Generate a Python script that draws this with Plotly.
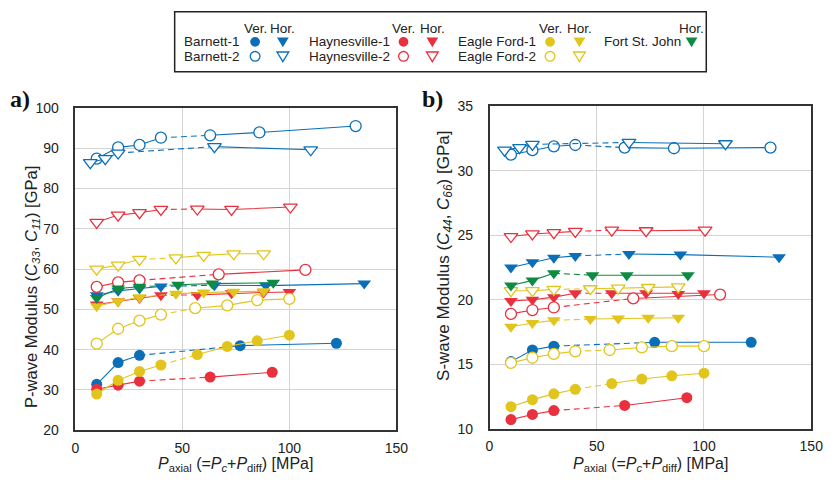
import plotly.graph_objects as go

# ---------------- data ----------------
# x: axial pressure (MPa); *_P: P-wave modulus (GPa); *_S: S-wave modulus (GPa)
B1_ver_x = [10, 20, 30, 77, 122]
B1_ver_P = [31.4, 36.8, 38.6, 41.0, 41.6]
B1_ver_S = [15.2, 16.1, 16.4, 16.7, 16.7]

B1_hor_x = [10, 20, 30, 40, 65, 89, 135]
B1_hor_P = [53.5, 54.6, 55.2, 55.7, 56.0, 55.9, 56.4]
B1_hor_S = [22.5, 22.9, 23.25, 23.4, 23.55, 23.5, 23.3]

B2_ver_x = [10, 20, 30, 40, 63, 86, 131]
B2_ver_P = [87.4, 90.2, 90.8, 92.6, 93.2, 93.9, 95.5]
B2_ver_S = [31.25, 31.6, 31.9, 32.0, 31.8, 31.75, 31.8]

B2_hor_x = [7, 14, 20, 65, 110]
B2_hor_P = [86.4, 87.4, 88.8, 90.4, 89.6]
B2_hor_S = [31.6, 31.8, 32.05, 32.2, 32.1]

H1_ver_x = [10, 20, 30, 63, 92]
H1_ver_P = [30.2, 31.2, 32.2, 33.2, 34.4]
H1_ver_S = [10.7, 11.1, 11.4, 11.8, 12.4]

H1_hor_x = [10, 20, 30, 40, 57, 73, 88, 100]
H1_hor_P = [51.2, 52.0, 52.8, 53.5, 53.6, 54.0, 54.2, 54.3]
H1_hor_S = [19.9, 20.0, 20.2, 20.5, 20.5, 20.5, 20.45, 20.5]

H2_ver_x = [10, 20, 30, 67, 107.5]
H2_ver_P = [55.6, 56.7, 57.2, 58.7, 59.8]
H2_ver_S = [18.9, 19.2, 19.4, 20.1, 20.4]

H2_hor_x = [10, 20, 30, 40, 57, 73, 100.5]
H2_hor_P = [71.6, 73.4, 74.0, 74.8, 74.9, 74.8, 75.4]
H2_hor_S = [24.9, 25.1, 25.2, 25.3, 25.4, 25.35, 25.4]

EF1_ver_x = [10, 20, 30, 40, 57, 71, 85, 100]
EF1_ver_P = [29.0, 32.4, 34.6, 36.2, 38.8, 40.8, 42.2, 43.6]
EF1_ver_S = [11.7, 12.25, 12.7, 13.05, 13.5, 13.85, 14.1, 14.3]

EF1_hor_x = [10, 20, 30, 47, 60, 74, 88]
EF1_hor_P = [50.8, 52.0, 53.0, 53.9, 54.2, 54.4, 54.5]
EF1_hor_S = [17.9, 18.2, 18.4, 18.5, 18.55, 18.6, 18.6]

EF2_ver_x = [10, 20, 30, 40, 56, 71, 85, 100]
EF2_ver_P = [41.5, 45.2, 47.2, 48.7, 50.3, 51.0, 52.3, 52.6]
EF2_ver_S = [15.1, 15.5, 15.8, 16.0, 16.1, 16.3, 16.4, 16.4]

EF2_hor_x = [10, 20, 30, 47, 60, 74, 88]
EF2_hor_P = [60.0, 61.0, 62.4, 62.8, 63.4, 63.8, 63.8]
EF2_hor_S = [20.7, 20.7, 20.8, 20.85, 20.9, 20.95, 21.0]

FSJ_hor_x = [10, 20, 30, 48, 64, 92.5]
FSJ_hor_P = [52.8, 55.2, 55.6, 56.1, 56.4, 56.6]
FSJ_hor_S = [21.1, 21.5, 22.05, 21.9, 21.9, 21.9]

BLUE = "#0B6FB8"
RED = "#E8303F"
YEL = "#E2C51C"
GRN = "#0E8A43"

series = [
    # name, x, P, S, index of first point after dashed link, color, filled, symbol
    ("Barnett-1 Ver", B1_ver_x, B1_ver_P, B1_ver_S, 3, BLUE, True, "circle"),
    ("Barnett-1 Hor", B1_hor_x, B1_hor_P, B1_hor_S, 4, BLUE, True, "triangle-down"),
    ("Barnett-2 Ver", B2_ver_x, B2_ver_P, B2_ver_S, 4, BLUE, False, "circle"),
    ("Barnett-2 Hor", B2_hor_x, B2_hor_P, B2_hor_S, 3, BLUE, False, "triangle-down"),
    ("Haynesville-1 Ver", H1_ver_x, H1_ver_P, H1_ver_S, 3, RED, True, "circle"),
    ("Haynesville-1 Hor", H1_hor_x, H1_hor_P, H1_hor_S, 4, RED, True, "triangle-down"),
    ("Haynesville-2 Ver", H2_ver_x, H2_ver_P, H2_ver_S, 3, RED, False, "circle"),
    ("Haynesville-2 Hor", H2_hor_x, H2_hor_P, H2_hor_S, 4, RED, False, "triangle-down"),
    ("Eagle Ford-1 Ver", EF1_ver_x, EF1_ver_P, EF1_ver_S, 4, YEL, True, "circle"),
    ("Eagle Ford-1 Hor", EF1_hor_x, EF1_hor_P, EF1_hor_S, 3, YEL, True, "triangle-down"),
    ("Eagle Ford-2 Ver", EF2_ver_x, EF2_ver_P, EF2_ver_S, 4, YEL, False, "circle"),
    ("Eagle Ford-2 Hor", EF2_hor_x, EF2_hor_P, EF2_hor_S, 3, YEL, False, "triangle-down"),
    ("Fort St. John Hor", FSJ_hor_x, FSJ_hor_P, FSJ_hor_S, 3, GRN, True, "triangle-down"),
]

W, H = 835, 485
fig = go.Figure()

def add_series(x, y, brk, color, filled, symbol, xa, ya, name):
    lw = 1.1
    fig.add_trace(go.Scatter(x=x[:brk], y=y[:brk], mode="lines", line=dict(color=color, width=lw),
                             xaxis=xa, yaxis=ya, showlegend=False, hoverinfo="skip"))
    fig.add_trace(go.Scatter(x=x[brk-1:brk+1], y=y[brk-1:brk+1], mode="lines",
                             line=dict(color=color, width=lw, dash="6px,4px"),
                             xaxis=xa, yaxis=ya, showlegend=False, hoverinfo="skip"))
    fig.add_trace(go.Scatter(x=x[brk:], y=y[brk:], mode="lines", line=dict(color=color, width=lw),
                             xaxis=xa, yaxis=ya, showlegend=False, hoverinfo="skip"))
    size = 11 if symbol == "circle" else 12
    if filled:
        mk = dict(symbol=symbol, size=size, color=color, line=dict(width=0))
    else:
        mk = dict(symbol=symbol, size=size, color="white", line=dict(width=1.3, color=color))
    fig.add_trace(go.Scatter(x=x, y=y, mode="markers", marker=mk, name=name,
                             xaxis=xa, yaxis=ya, showlegend=False))

for name, x, P, S, brk, c, f, sym in series:
    add_series(x, P, brk, c, f, sym, "x", "y", name)
for name, x, P, S, brk, c, f, sym in series:
    add_series(x, S, brk, c, f, sym, "x2", "y2", name)

def px(v):
    return v / W

def py(v):
    return 1 - v / H

TICKFONT = dict(family="Liberation Sans, Arial, sans-serif", size=14, color="#222")
ax_common = dict(showline=True, linecolor="#333", linewidth=1.5, mirror=True,
                 showgrid=True, gridcolor="#d4d4d4", gridwidth=1, zeroline=False,
                 ticks="", tickfont=TICKFONT)

fig.update_layout(
    width=W, height=H, margin=dict(l=0, r=0, t=0, b=0),
    paper_bgcolor="white", plot_bgcolor="white", showlegend=False,
    xaxis=dict(domain=[px(72.7), px(400)], range=[0, 150], tickvals=[0, 50, 100, 150],
               anchor="y", ticklabelstandoff=4, **ax_common),
    yaxis=dict(domain=[py(436.7), py(103.3)], range=[20, 100], dtick=10,
               anchor="x", ticklabelstandoff=12, **ax_common),
    xaxis2=dict(domain=[px(495), px(823)], range=[0, 150], tickvals=[0, 50, 100, 150],
                anchor="y2", ticklabelstandoff=4, **ax_common),
    yaxis2=dict(domain=[py(435), py(101.7)], range=[10, 35], dtick=5,
                anchor="x2", ticklabelstandoff=12, **ax_common),
)

ann = []
shapes = []
TF = "Liberation Sans, Arial, sans-serif"
# axis titles
xt = "<i>P</i><sub>axial</sub> (=<i>P</i><sub><i>c</i></sub>+<i>P</i><sub>diff</sub>) [MPa]"
for cx in (236, 659):
    ann.append(dict(text=xt, x=px(cx), y=py(472), xref="paper", yref="paper", showarrow=False,
                    font=dict(family=TF, size=16, color="#222"), xanchor="center", yanchor="middle"))
ann.append(dict(text="P-wave Modulus (<i>C</i><sub><i>33</i></sub>, <i>C</i><sub><i>11</i></sub>) [GPa]",
                x=px(29), y=py(288), xref="paper", yref="paper", showarrow=False, textangle=-90,
                font=dict(family=TF, size=16.5, color="#222"), xanchor="center", yanchor="middle"))
ann.append(dict(text="S-wave Modulus (<i>C</i><sub><i>44</i></sub>, <i>C</i><sub><i>66</i></sub>) [GPa]",
                x=px(449), y=py(256), xref="paper", yref="paper", showarrow=False, textangle=-90,
                font=dict(family=TF, size=17, color="#222"), xanchor="center", yanchor="middle"))
# panel labels
for lab, lx in (("a)", 4), ("b)", 424)):
    ann.append(dict(text="<b>" + lab + "</b>", x=px(lx), y=py(94), xref="paper", yref="paper",
                    showarrow=False,
                    font=dict(family="Liberation Serif, Times New Roman, serif", size=24, color="#111"),
                    xanchor="left", yanchor="middle"))

# legend (text + key glyphs drawn as layout shapes)
LF = dict(family=TF, size=13.5, color="#222")
def t(text, x, y, anchor="left"):
    ann.append(dict(text=text, x=px(x), y=py(y), xref="paper", yref="paper", showarrow=False,
                    font=LF, xanchor=anchor, yanchor="middle"))

def key_circle(cx, cy, col, filled):
    r = 5
    shapes.append(dict(type="circle", xref="paper", yref="paper",
                       x0=px(cx - r), x1=px(cx + r), y0=py(cy + r), y1=py(cy - r),
                       fillcolor=col if filled else "white",
                       line=dict(color=col, width=0 if filled else 1.3)))

def key_tri(cx, cy, col, filled):
    hw, top, bot = 6, 4.5, 5.5
    path = "M {:.5f},{:.5f} L {:.5f},{:.5f} L {:.5f},{:.5f} Z".format(
        px(cx - hw), py(cy - top), px(cx + hw), py(cy - top), px(cx), py(cy + bot))
    shapes.append(dict(type="path", xref="paper", yref="paper", path=path,
                       fillcolor=col if filled else "white",
                       line=dict(color=col, width=0 if filled else 1.3)))

groups = [
    ("Barnett-1", "Barnett-2", 181.7, 256, 284.3, BLUE),
    ("Haynesville-1", "Haynesville-2", 309.3, 407.3, 436.7, RED),
    ("Eagle Ford-1", "Eagle Ford-2", 460.7, 556.7, 586.7, YEL),
]
for n1, n2, tx, vx, hx, col in groups:
    t(n1, tx, 35)
    t(n2, tx, 50)
    t("Ver.", vx, 21, "center")
    t("Hor.", hx, 21, "center")
    key_circle(vx, 35, col, True)
    key_tri(hx, 35, col, True)
    key_circle(vx, 50, col, False)
    key_tri(hx, 50, col, False)
t("Fort St. John", 609.3, 35)
t("Hor.", 701, 21, "center")
key_tri(701, 35, GRN, True)

shapes.append(dict(type="rect", xref="paper", yref="paper", x0=px(174), x1=px(716), y0=py(66), y1=py(4),
                   line=dict(color="#222", width=1.5), fillcolor="rgba(0,0,0,0)"))

fig.update_layout(annotations=ann, shapes=shapes)

fig.write_html("out.html")
